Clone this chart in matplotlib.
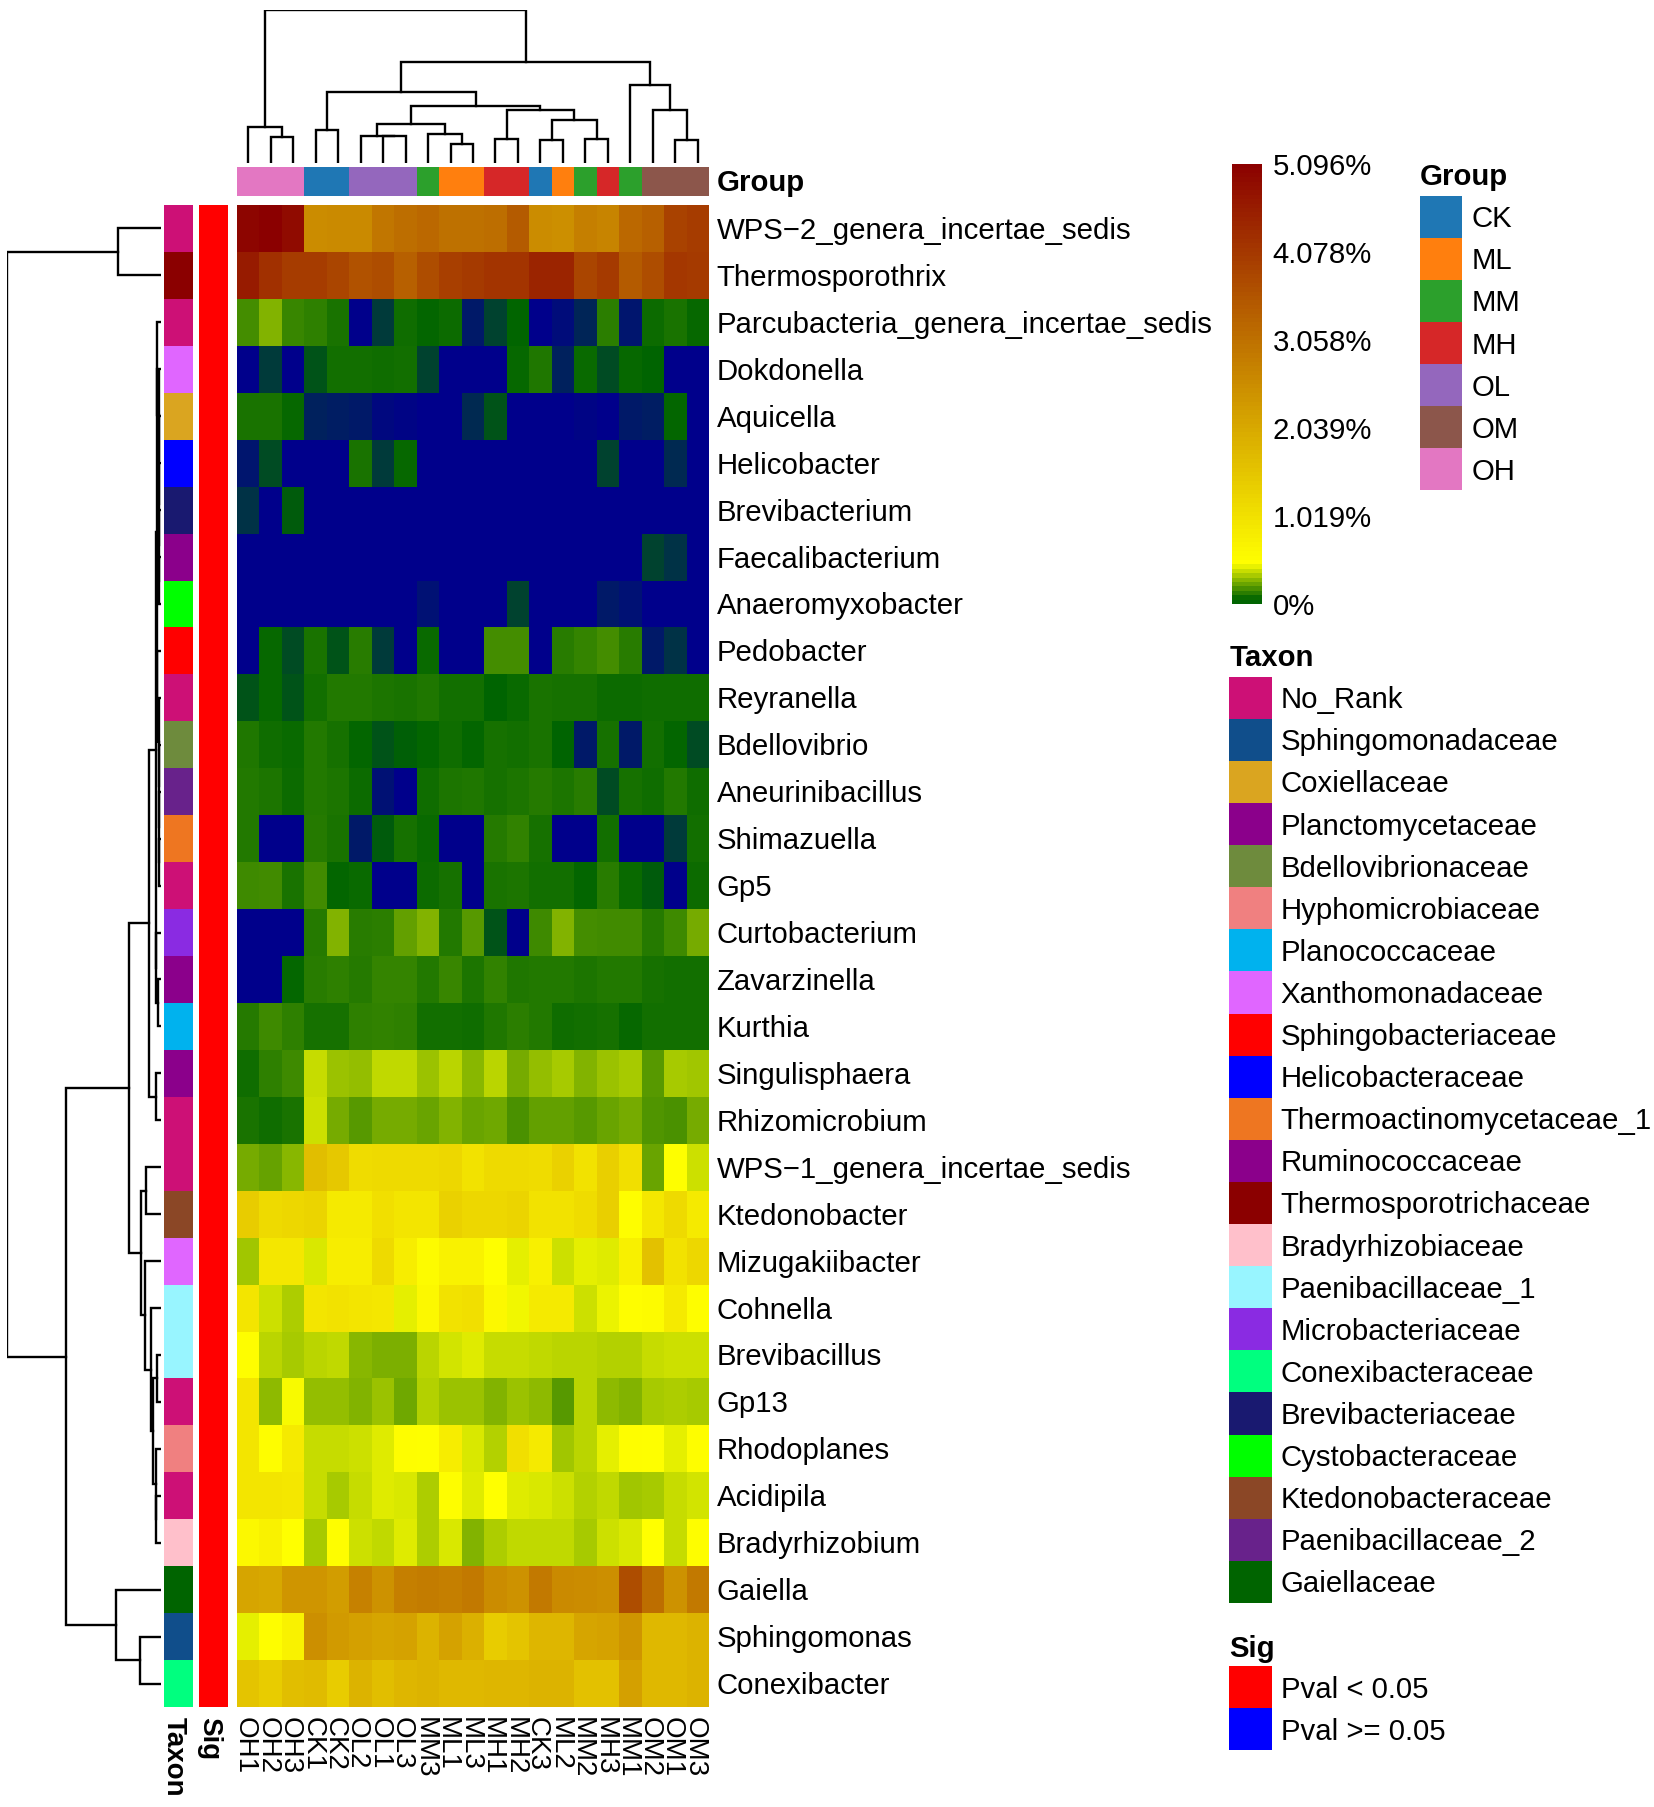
import numpy as np
import matplotlib
matplotlib.use("Agg")
import matplotlib.pyplot as plt
from matplotlib.cm import ScalarMappable
from matplotlib.colors import LinearSegmentedColormap, Normalize, ListedColormap
from matplotlib.patches import Rectangle

plt.rcParams['font.family'] = ['Liberation Sans', 'DejaVu Sans']

W, H = 1654, 1807

samples = ['OH1', 'OH2', 'OH3', 'CK1', 'CK2', 'OL2', 'OL1', 'OL3', 'MM3', 'ML1', 'ML3',
           'MH1', 'MH2', 'CK3', 'ML2', 'MM2', 'MH3', 'MM1', 'OM2', 'OM1', 'OM3']

genera = ['WPS\u22122_genera_incertae_sedis', 'Thermosporothrix', 'Parcubacteria_genera_incertae_sedis',
          'Dokdonella', 'Aquicella', 'Helicobacter', 'Brevibacterium', 'Faecalibacterium',
          'Anaeromyxobacter', 'Pedobacter', 'Reyranella', 'Bdellovibrio', 'Aneurinibacillus',
          'Shimazuella', 'Gp5', 'Curtobacterium', 'Zavarzinella', 'Kurthia', 'Singulisphaera',
          'Rhizomicrobium', 'WPS\u22121_genera_incertae_sedis', 'Ktedonobacter', 'Mizugakiibacter',
          'Cohnella', 'Brevibacillus', 'Gp13', 'Rhodoplanes', 'Acidipila', 'Bradyrhizobium',
          'Gaiella', 'Sphingomonas', 'Conexibacter']

genus_family = ['No_Rank', 'Thermosporotrichaceae', 'No_Rank', 'Xanthomonadaceae', 'Coxiellaceae',
                'Helicobacteraceae', 'Brevibacteriaceae', 'Ruminococcaceae', 'Cystobacteraceae',
                'Sphingobacteriaceae', 'No_Rank', 'Bdellovibrionaceae', 'Paenibacillaceae_2',
                'Thermoactinomycetaceae_1', 'No_Rank', 'Microbacteriaceae', 'Planctomycetaceae',
                'Planococcaceae', 'Planctomycetaceae', 'No_Rank', 'No_Rank', 'Ktedonobacteraceae',
                'Xanthomonadaceae', 'Paenibacillaceae_1', 'Paenibacillaceae_1', 'No_Rank',
                'Hyphomicrobiaceae', 'No_Rank', 'Bradyrhizobiaceae', 'Gaiellaceae',
                'Sphingomonadaceae', 'Conexibacteraceae']

# relative abundance in percent
abundance = [
    [5.0, 5.09, 4.9, 2.55, 2.6, 2.6, 2.95, 3.1, 3.2, 3.05, 3.05, 3.1, 3.45, 2.55, 2.5, 2.8, 2.7, 3.2, 3.35, 3.9, 4.0],
    [4.6, 4.22, 4.0, 4.0, 3.85, 3.6, 3.7, 3.35, 3.7, 3.95, 4.05, 4.15, 4.15, 4.45, 4.45, 3.85, 4.05, 3.45, 3.7, 4.1, 4.05],
    [.17, .27, .15, .135, .10, 0, .035, .085, .065, .08, .017, .042, .064, 0, .008, .023, .13, .014, .08, .10, .07],
    [0, .035, 0, .052, .09, .09, .085, .09, .04, 0, 0, 0, .07, .11, .02, .075, .045, .07, .06, 0, 0],
    [.10, .10, .07, .02, .018, .015, .006, .004, .002, 0, .025, .05, 0, 0, 0, .004, 0, .015, .018, .065, 0],
    [.014, .045, 0, 0, 0, .10, .035, .07, 0, 0, 0, 0, 0, 0, 0, 0, .04, 0, 0, .025, 0],
    [.03, 0, .055, 0, 0, 0, 0, 0, 0, 0, 0, 0, 0, 0, 0, 0, 0, 0, 0, 0, 0],
    [0, 0, 0, 0, 0, 0, 0, 0, 0, 0, 0, 0, 0, 0, 0, 0, 0, 0, .04, .03, 0],
    [0, 0, 0, 0, 0, 0, 0, 0, .01, 0, 0, 0, .04, 0, 0, 0, .015, .01, 0, 0, 0],
    [0, .07, .045, .10, .05, .125, .035, 0, .075, 0, 0, .17, .17, 0, .125, .145, .17, .125, .015, .03, 0],
    [.05, .07, .05, .09, .115, .115, .105, .10, .11, .09, .09, .062, .075, .10, .095, .095, .08, .08, .085, .085, .085],
    [.11, .085, .075, .115, .095, .065, .05, .058, .065, .085, .065, .095, .09, .10, .06, .015, .095, .015, .09, .065, .045],
    [.115, .105, .08, .115, .105, .08, .012, 0, .085, .105, .11, .095, .105, .12, .105, .125, .045, .095, .085, .115, .085],
    [.115, .001, 0, .12, .10, .015, .055, .095, .075, 0, 0, .12, .14, .095, 0, 0, .09, 0, 0, .035, .09],
    [.16, .165, .10, .165, .065, .075, 0, 0, .08, .095, 0, .10, .105, .09, .09, .065, .125, .075, .055, 0, .08],
    [0, 0, 0, .12, .27, .125, .13, .22, .27, .115, .20, .05, 0, .16, .27, .17, .165, .165, .12, .16, .25],
    [0, 0, .068, .125, .135, .12, .145, .145, .115, .15, .105, .14, .11, .115, .115, .105, .115, .115, .095, .09, .09],
    [.12, .16, .135, .095, .095, .135, .14, .135, .09, .09, .085, .11, .13, .115, .085, .09, .095, .07, .09, .09, .09],
    [.085, .135, .16, .38, .31, .30, .37, .37, .31, .36, .28, .36, .25, .30, .33, .27, .31, .33, .20, .33, .32],
    [.10, .085, .10, .39, .25, .20, .25, .25, .23, .27, .23, .24, .18, .22, .22, .20, .23, .25, .19, .18, .25],
    [.25, .225, .28, 1.65, 1.47, 1.1, 1.15, 1.15, 1.15, 1.2, 1.0, 1.15, 1.15, 1.1, 1.3, 1.0, 1.35, 1.05, .23, .47, .39],
    [1.4, 1.15, 1.2, 1.25, .85, .85, 1.05, .95, .95, 1.3, 1.2, 1.2, 1.25, 1.0, 1.0, 1.1, 1.35, .5, .9, 1.15, .85],
    [.32, .9, .9, .41, .8, .8, 1.15, .8, .55, .7, .7, .47, .43, .75, .39, .43, .42, .75, 1.6, 1.0, 1.2],
    [.95, .39, .34, .95, 1.0, .95, .9, .43, .6, 1.0, 1.05, .6, .45, .85, .85, .39, .44, .5, .55, .85, .5],
    [.5, .36, .33, .36, .37, .28, .26, .26, .36, .40, .42, .38, .38, .37, .36, .36, .35, .35, .38, .39, .39],
    [.95, .29, .46, .30, .30, .27, .31, .24, .35, .31, .31, .27, .31, .29, .20, .36, .29, .27, .33, .34, .33],
    [.95, .5, .85, .38, .38, .39, .42, .5, .47, .8, .41, .35, 1.05, .85, .32, .36, .43, .5, .47, .43, .5],
    [.95, .95, .9, .38, .33, .38, .42, .41, .34, .5, .42, .48, .42, .41, .39, .35, .37, .32, .33, .38, .40],
    [.6, .7, .48, .33, .5, .39, .37, .42, .34, .41, .27, .34, .37, .37, .37, .33, .39, .41, .48, .38, .5],
    [2.1, 2.05, 2.4, 2.4, 2.25, 2.75, 2.45, 2.8, 2.85, 2.8, 2.9, 2.55, 2.45, 2.9, 2.6, 2.55, 2.5, 3.7, 3.1, 2.45, 2.9],
    [.43, .5, .7, 2.5, 2.3, 2.2, 2.1, 2.15, 1.85, 2.15, 1.9, 1.4, 1.55, 1.8, 1.8, 2.1, 2.15, 2.4, 1.75, 1.75, 1.85],
    [1.55, 1.4, 1.65, 1.7, 1.4, 1.85, 1.65, 1.8, 1.85, 1.75, 1.75, 1.8, 1.8, 1.85, 1.85, 1.6, 1.6, 2.2, 1.75, 1.75, 1.85],
]

group_names = ['CK', 'ML', 'MM', 'MH', 'OL', 'OM', 'OH']
group_colors = ['#1f77b4', '#ff7f0e', '#2ca02c', '#d62728', '#9467bd', '#8c564b', '#e377c2']

family_names = ['No_Rank', 'Sphingomonadaceae', 'Coxiellaceae', 'Planctomycetaceae', 'Bdellovibrionaceae',
                'Hyphomicrobiaceae', 'Planococcaceae', 'Xanthomonadaceae', 'Sphingobacteriaceae',
                'Helicobacteraceae', 'Thermoactinomycetaceae_1', 'Ruminococcaceae', 'Thermosporotrichaceae',
                'Bradyrhizobiaceae', 'Paenibacillaceae_1', 'Microbacteriaceae', 'Conexibacteraceae',
                'Brevibacteriaceae', 'Cystobacteraceae', 'Ktedonobacteraceae', 'Paenibacillaceae_2', 'Gaiellaceae']
family_colors = ['#CD1076', '#104E8B', '#DAA520', '#8B008B', '#6E8B3D', '#F08080', '#00B2EE', '#E066FF',
                 '#FF0000', '#0000FF', '#EE7621', '#8B008B', '#8B0000', '#FFC0CB', '#98F5FF', '#8A2BE2',
                 '#00FF7F', '#191970', '#00FF00', '#8B4726', '#68228B', '#006400']

sig_names = ['Pval < 0.05', 'Pval >= 0.05']
sig_colors = ['#FF0000', '#0000FF']

cbar_ticks = [0, 1.019, 2.039, 3.058, 4.078, 5.096]
cbar_labels = ['0%', '1.019%', '2.039%', '3.058%', '4.078%', '5.096%']

# dendrograms: (left, right, height), leaves are row/column indices
col_tree = (
    (0, (1, 2, 17.0), 23.7),
    (
        (
            (3, 4, 21.3),
            (
                ((5, (6, 7, 17.4), 17.8), (8, (9, 10, 12.6), 18.9), 25.2),
                ((11, 12, 15.7), ((13, 14, 15.2), (15, 16, 15.7), 27.8), 34.8),
                37.4,
            ),
            46.7,
        ),
        (17, (18, (19, 20, 15.2), 34.6), 51.1),
        65.7,
    ),
    100,
)

chain_a = (2, (3, (4, (5, (6, (7, 8, .9), 1.0), 1.1), 1.2), 1.3), 2.2)
chain_b = (9, (10, (11, (12, (13, 14, .9), 1.0), 1.1), 1.2), 2.2)
chain_c = (15, (16, 17, 2.0), 3.0)
upper_block = (((chain_a, chain_b, 2.6), chain_c, 3.2), (18, 19, 3.2), 7.6)
lower_block = ((20, 21, 9.5), (22, (23, ((24, 25, 2.2), (26, (27, 28, 3.0), 3.2), 4.8), 6.5), 10.0), 13.0)
row_tree = (
    (0, 1, 27.9),
    ((upper_block, lower_block, 20.3), (29, (30, 31, 13.4), 28.8), 61.7),
    100,
)

heat_colors = LinearSegmentedColormap.from_list(
    'heat', [(0, '#00008B'), (.06 / 5.096, '#006400'), (.47 / 5.096, '#FFFF00'), (1, '#8B0000')], N=2048)
norm = Normalize(0, 5.096)


def px_axes(fig, x0, y0, x1, y1):
    # axes placed by pixel box, y counted from the top of the picture
    ax = fig.add_axes([x0 / W, 1 - y1 / H, (x1 - x0) / W, (y1 - y0) / H])
    ax.axis('off')
    return ax


def draw_tree(ax, node, horizontal=False):
    # returns leaf position and height of the node
    if not isinstance(node, tuple):
        return node + .5, 0
    p1, h1 = draw_tree(ax, node[0], horizontal)
    p2, h2 = draw_tree(ax, node[1], horizontal)
    h = node[2]
    pos = [p1, p1, p2, p2]
    hgt = [h1, h, h, h2]
    if horizontal:
        ax.plot(hgt, pos, color='black', lw=1.7, solid_joinstyle='miter')
    else:
        ax.plot(pos, hgt, color='black', lw=1.7, solid_joinstyle='miter')
    return (p1 + p2) / 2, h


heat_x0, heat_x1 = 237, 709
heat_y0, heat_y1 = 205, 1707
n_rows, n_cols = len(genera), len(samples)

fig = plt.figure(figsize=(W / 100, H / 100), dpi=100)

# main heatmap
ax_heat = px_axes(fig, heat_x0, heat_y0, heat_x1, heat_y1)
ax_heat.pcolormesh(np.array(abundance), cmap=heat_colors, norm=norm, antialiased=False)
ax_heat.set_ylim(n_rows, 0)

# annotation strips
group_idx = [[group_names.index(s[:2]) for s in samples]]
ax_grp = px_axes(fig, heat_x0, 167, heat_x1, 196)
ax_grp.pcolormesh(np.array(group_idx), cmap=ListedColormap(group_colors), vmin=0, vmax=len(group_names) - 1)

fam_idx = [[family_names.index(f)] for f in genus_family]
ax_tax = px_axes(fig, 163.5, heat_y0, 192.5, heat_y1)
ax_tax.pcolormesh(np.array(fam_idx), cmap=ListedColormap(family_colors), vmin=0, vmax=len(family_names) - 1)
ax_tax.set_ylim(n_rows, 0)

ax_sig = px_axes(fig, 199, heat_y0, 228, heat_y1)
ax_sig.pcolormesh(np.zeros((n_rows, 1)), cmap=ListedColormap(sig_colors), vmin=0, vmax=1)
ax_sig.set_ylim(n_rows, 0)

# dendrograms
ax_top = px_axes(fig, heat_x0, 10, heat_x1, 163)
draw_tree(ax_top, col_tree)
ax_top.set_xlim(0, n_cols)
ax_top.set_ylim(0, 100)

ax_left = px_axes(fig, 6.7, heat_y0, 160.7, heat_y1)
draw_tree(ax_left, row_tree, horizontal=True)
ax_left.set_xlim(100, 0)
ax_left.set_ylim(n_rows, 0)

# colour bar, its lowest bins stop short of the dark blue end
ax_cb = fig.add_axes([1232 / W, 1 - 604 / H, 30 / W, 440 / H])
cb_edges = np.linspace(0, 5.096, 101)
cb_values = np.maximum((cb_edges[:-1] + cb_edges[1:]) / 2, .06)
cb = fig.colorbar(ScalarMappable(norm=norm, cmap=heat_colors), cax=ax_cb,
                  boundaries=cb_edges, values=cb_values)
cb.outline.set_visible(False)
cb.set_ticks(cbar_ticks)
cb.set_ticklabels(cbar_labels)
cb.ax.tick_params(length=0, pad=7.7, labelsize=21.2)

# everything else on a canvas in picture pixels
canvas = px_axes(fig, 0, 0, W, H)
canvas.set_xlim(0, W)
canvas.set_ylim(H, 0)
canvas.patch.set_alpha(0)

FS = 21.2
FS_ROT = 20
row_h = (heat_y1 - heat_y0) / n_rows
col_w = (heat_x1 - heat_x0) / n_cols

for i, name in enumerate(genera):
    canvas.text(716.5, heat_y0 + (i + .5) * row_h + 10.5, name, fontsize=FS, va='baseline', ha='left')
for j, name in enumerate(samples):
    canvas.text(heat_x0 + (j + .5) * col_w - 3.5, 1717, name, fontsize=FS_ROT, rotation=270, va='top', ha='center')

canvas.text(716.5, 191, 'Group', fontsize=FS, fontweight='bold', va='baseline')
canvas.text(174, 1717, 'Taxon', fontsize=FS_ROT, fontweight='bold', rotation=270, va='top', ha='center')
canvas.text(209, 1717, 'Sig', fontsize=FS_ROT, fontweight='bold', rotation=270, va='top', ha='center')


def legend(title, names, colors, x, y, title_y):
    canvas.text(x, title_y, title, fontsize=FS, fontweight='bold', va='baseline')
    step = 42.1
    for k, (name, color) in enumerate(zip(names, colors)):
        canvas.add_patch(Rectangle((x, y + k * step), 42.3, step, facecolor=color, edgecolor='none'))
        canvas.text(x + 51.5, y + (k + .5) * step + 10.5, name, fontsize=FS, va='baseline')


legend('Group', group_names, group_colors, 1420, 195.7, 185)
legend('Taxon', family_names, family_colors, 1229.3, 676.7, 666)
legend('Sig', sig_names, sig_colors, 1229.3, 1666.3, 1657)

fig.savefig('out.png', dpi=100, facecolor='white')
